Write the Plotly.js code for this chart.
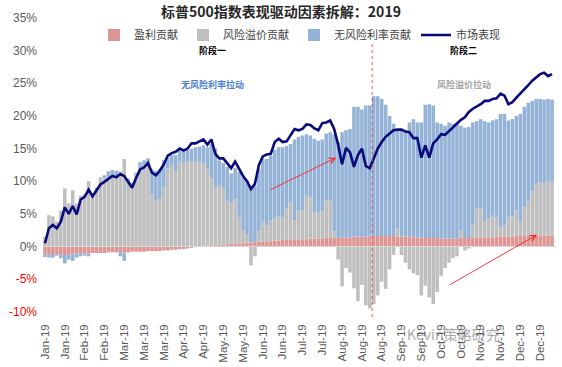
<!DOCTYPE html>
<html>
<head>
<meta charset="utf-8">
<script src="https://cdn.plot.ly/plotly-3.0.1.min.js"></script>
<style>
html,body{margin:0;padding:0;background:#ffffff;}
#chart{width:562px;height:367px;}
</style>
</head>
<body>
<div id="chart"></div>
<script>
// ---- data (percent), one bar per two trading days, Jan-2019 .. Dec-2019 ----
const tickLabels = ["Jan-19","Jan-19","Feb-19","Feb-19","Mar-19","Mar-19","Mar-19","Apr-19","Apr-19","May-19","May-19","Jun-19","Jun-19","Jul-19","Jul-19","Aug-19","Aug-19","Aug-19","Sep-19","Sep-19","Oct-19","Oct-19","Nov-19","Nov-19","Dec-19","Dec-19"];

const earnings = [
 -1.2,-1.2,-1.3,-1.2,-1.2,-1.3,-1.2,-1.2,-1.1,-1.1,
 -1.1,-1.1,-1.0,-1.0,-1.0,-1.0,-0.9,-0.9,-0.9,-0.9,
 -0.9,-0.9,-0.8,-0.8,-0.8,-0.8,-0.7,-0.7,-0.7,-0.7,
 -0.6,-0.6,-0.5,-0.5,-0.4,-0.4,-0.3,-0.2,-0.1,0.0,
 0.1,0.1,0.2,0.2,0.3,0.3,0.3,0.4,0.4,0.5,
 0.5,0.6,0.6,0.7,0.7,0.8,0.8,0.8,0.9,0.9,
 1.0,1.0,1.0,1.1,1.1,1.1,1.1,1.2,1.2,1.2,
 1.2,1.3,1.3,1.3,1.3,1.4,1.4,1.4,1.5,1.5,
 1.5,1.5,1.5,1.6,1.6,1.6,1.6,1.6,1.6,1.5,
 1.5,1.5,1.5,1.4,1.4,1.4,1.3,1.3,1.3,1.3,
 1.2,1.2,1.2,1.2,1.2,1.3,1.3,1.3,1.3,1.4,
 1.4,1.4,1.4,1.4,1.5,1.5,1.5,1.5,1.5,1.6,
 1.6,1.6,1.6,1.6,1.7,1.7,1.7,1.7,1.7
];

const riskPremium = [
 1.5,4.8,4.6,3.8,5.5,8.9,6.6,8.6,6.6,7.8,
 8.0,10.0,7.8,8.2,10.4,10.4,10.6,10.7,10.7,11.5,
 13.4,9.4,9.4,11.0,11.9,12.3,12.5,8.0,7.0,7.3,
 9.0,12.0,12.5,11.5,13.0,12.8,13.0,13.1,12.9,13.0,
 12.6,11.9,10.3,8.8,9.1,8.7,6.7,6.2,6.8,4.0,
 2.0,1.1,-2.9,-1.5,1.6,3.0,2.4,3.2,3.4,3.7,
 3.4,4.8,5.8,2.9,4.4,4.4,6.7,6.4,4.1,4.0,
 4.2,5.8,5.7,1.0,-2.0,-6.1,-3.3,-4.0,-6.4,-8.4,
 -5.9,-9.0,-9.5,-8.8,-7.5,-5.4,-6.5,-3.5,-1.3,1.3,
 -1.3,-2.5,-3.5,-4.1,-4.4,-7.5,-6.0,-7.8,-8.8,-7.0,
 -4.5,-3.3,-2.5,-1.8,-1.5,1.2,-0.6,-0.3,2.0,4.4,
 4.4,2.4,2.9,3.3,3.0,1.5,1.7,3.0,3.1,3.9,
 2.2,4.4,5.3,6.8,7.9,8.1,8.0,8.2,8.2
];

const riskFree = [
 -0.4,-0.5,-0.4,-0.2,-0.6,-1.3,-0.8,-1.0,-0.6,-0.4,
 -0.3,-0.4,0.3,0.8,0.2,0.5,0.9,1.0,0.9,-0.6,
 -1.3,1.0,0.4,0.3,1.0,0.9,1.0,3.8,4.6,4.6,
 4.2,1.6,1.5,2.5,1.7,1.7,1.8,1.9,2.3,2.3,
 2.8,3.2,5.2,6.0,3.8,3.8,5.2,4.6,4.8,6.9,
 8.1,8.3,8.4,8.7,9.6,9.6,10.2,9.9,10.5,10.6,
 10.8,9.6,8.9,12.4,11.3,11.5,9.4,9.4,11.2,11.0,
 11.0,10.2,10.5,14.9,14.7,16.1,16.4,16.6,19.9,19.9,
 19.5,20.1,20.1,21.4,21.4,21.0,20.1,18.4,17.2,15.0,
 16.3,16.0,17.5,18.1,17.6,17.6,20.4,20.5,20.3,17.7,
 17.6,17.3,17.8,17.6,17.8,16.0,16.9,17.0,15.7,13.4,
 13.7,15.4,14.7,14.6,15.0,17.3,17.1,14.8,14.9,14.5,
 16.5,15.4,15.1,13.9,13.0,12.8,12.8,12.7,12.6
];

const market = [
 0.5,2.8,3.3,2.8,3.8,6.0,5.0,6.2,4.9,7.2,
 7.6,8.7,7.7,8.6,9.5,9.9,10.4,10.8,10.6,11.1,
 10.8,9.9,9.0,10.5,11.8,12.1,12.8,11.3,10.9,11.6,
 12.6,13.9,14.3,14.5,15.0,14.7,15.0,15.8,15.8,16.1,
 16.4,15.6,16.4,14.2,13.5,13.5,12.8,12.0,13.0,11.8,
 10.8,10.0,8.8,9.6,12.5,13.8,14.1,14.2,16.0,16.5,
 16.0,16.1,17.0,18.0,17.8,18.0,18.7,18.6,18.1,17.8,
 18.9,19.0,19.3,18.0,15.6,12.6,15.1,14.4,12.2,14.0,
 15.0,12.3,12.0,13.5,15.0,16.0,16.8,17.3,17.8,17.9,
 17.9,17.6,17.5,16.6,16.6,13.6,15.5,13.6,15.8,16.4,
 17.2,17.1,17.7,18.3,18.9,19.4,19.8,20.6,21.1,21.4,
 21.8,22.3,22.3,22.6,22.7,23.4,23.1,21.8,22.1,22.8,
 23.4,24.0,24.7,25.4,25.9,26.4,26.6,26.1,26.4
];

const yTickVals = [35,30,25,20,15,10,5,0,-5,-10];

// ---- build ----
const xs = market.map((_, i) => i);
const tickVals = tickLabels.map((_, i) => i * 5);
const yTickText = yTickVals.map(v => v < 0
  ? '<span style="color:#FF0000">' + v + '%</span>'
  : v + '%');

const cjk = '"Noto Sans CJK SC", "Noto Sans", sans-serif';
const latin = '"Liberation Sans", Arial, sans-serif';

const traces = [
  {type:'bar', name:'盈利贡献', x:xs, y:earnings,
   marker:{color:'rgba(200,85,83,0.62)', line:{width:0}}, hoverinfo:'skip'},
  {type:'bar', name:'风险溢价贡献', x:xs, y:riskPremium,
   marker:{color:'#BFBFBF', line:{width:0}}, hoverinfo:'skip'},
  {type:'bar', name:'无风险利率贡献', x:xs, y:riskFree,
   marker:{color:'#95B3D7', line:{width:0}}, hoverinfo:'skip'},
  {type:'scatter', mode:'lines', name:'市场表现', x:xs, y:market,
   line:{color:'#0A0A7D', width:2.6}, hoverinfo:'skip'}
];

const layout = {
  width:562, height:367,
  margin:{l:43, r:6, t:17, b:50, pad:0},
  paper_bgcolor:'#ffffff', plot_bgcolor:'#ffffff',
  font:{family:latin, color:'#595959', size:12},
  barmode:'relative', bargap:0.1,
  showlegend:true,
  title:{text:'<b>标普500指数表现驱动因素拆解：2019</b>',
         font:{family:cjk, size:14, color:'#262626'},
         x:0.5, xanchor:'center', xref:'container',
         y:0.967, yanchor:'middle', yref:'container'},
  legend:{orientation:'h', x:0.5, xanchor:'center', y:0.94, yanchor:'middle',
          traceorder:'normal', font:{family:cjk, size:11, color:'#404040'},
          bgcolor:'rgba(0,0,0,0)', itemwidth:30, tracegroupgap:0},
  xaxis:{range:[-0.5,129], tickmode:'array', tickvals:tickVals, ticktext:tickLabels,
         tickangle:-90, tickfont:{family:latin, size:11.5, color:'#595959'},
         showgrid:false, zeroline:false, showline:false, ticks:'', ticklabelstandoff:4,
         fixedrange:true},
  yaxis:{range:[-10.8,35.15], tickmode:'array', tickvals:yTickVals, ticktext:yTickText,
         tickfont:{family:latin, size:12, color:'#595959'},
         showgrid:false, zeroline:false, showline:false, ticks:'', ticklabelstandoff:5,
         fixedrange:true},
  shapes:[
    {type:'line', xref:'paper', yref:'y', x0:0, x1:1, y0:0, y1:0,
     line:{color:'#D9D9D9', width:1}, layer:'above'},
    {type:'line', xref:'x', yref:'y', x0:82.6, x1:82.6, y0:-10.8, y1:31.4,
     line:{color:'rgba(240,60,60,0.85)', width:1, dash:'dot'}, layer:'above'}
  ],
  annotations:[
    {xref:'x', yref:'y', x:42.4, y:30.0, text:'<b>阶段一</b>', showarrow:false,
     font:{family:cjk, size:9, color:'#000000'}},
    {xref:'x', yref:'y', x:105.6, y:30.0, text:'<b>阶段二</b>', showarrow:false,
     font:{family:cjk, size:9, color:'#000000'}},
    {xref:'x', yref:'y', x:42.2, y:24.8, text:'<b>无风险利率拉动</b>', showarrow:false,
     font:{family:cjk, size:9, color:'#4A7FD0'}},
    {xref:'x', yref:'y', x:105.8, y:24.8, text:'<b>风险溢价拉动</b>', showarrow:false,
     font:{family:cjk, size:9, color:'#A6A6A6'}},
    {xref:'x', yref:'y', axref:'x', ayref:'y', x:73.5, y:13.6, ax:56.6, ay:8.6,
     text:'', showarrow:true, arrowhead:5, arrowsize:1.3, arrowwidth:0.9, arrowcolor:'#FF2020'},
    {xref:'x', yref:'y', axref:'x', ayref:'y', x:124.2, y:1.8, ax:101.8, ay:-6.0,
     text:'', showarrow:true, arrowhead:5, arrowsize:1.3, arrowwidth:0.9, arrowcolor:'#FF2020'},
    {xref:'paper', yref:'paper', x:0.893, y:-0.097, text:'Kevin策略研究', showarrow:false,
     font:{family:cjk, size:14, color:'rgba(110,110,110,0.6)'}}
  ]
};

Plotly.newPlot('chart', traces, layout, {staticPlot:true, displayModeBar:false});
</script>
</body>
</html>
